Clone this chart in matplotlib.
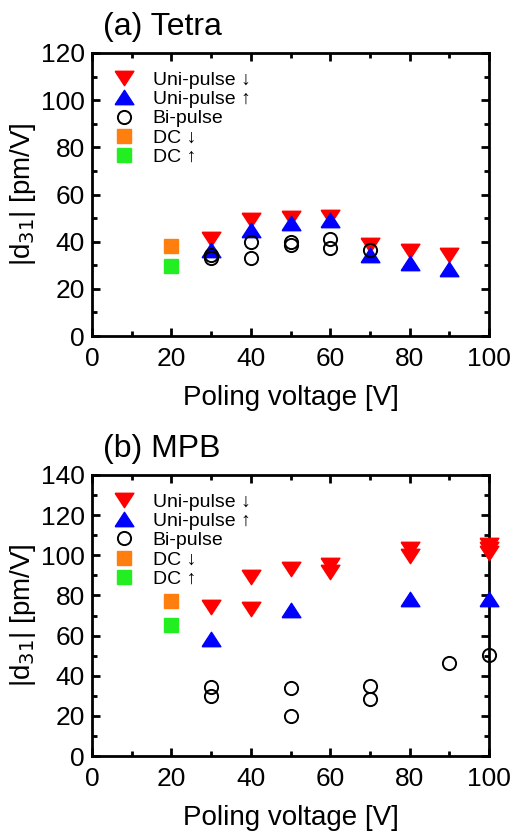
import matplotlib.pyplot as plt
from matplotlib.ticker import MultipleLocator

plt.rcParams["font.family"] = ["Liberation Sans", "DejaVu Sans"]

# (a) Tetra
a_uni_dn_x = [30, 40, 50, 60, 70, 80, 90]
a_uni_dn_y = [41, 49, 50, 50.5, 38.5, 36, 34.5]
a_uni_up_x = [30, 40, 50, 60, 70, 80, 90]
a_uni_up_y = [36.5, 45, 48, 49, 34.5, 31, 28.5]
a_bi_x = [30, 30, 40, 40, 50, 50, 60, 60, 70]
a_bi_y = [34.5, 33, 40, 33, 40, 38.5, 41, 37.5, 36.5]
a_dc_dn = ([20], [38])
a_dc_up = ([20], [29.5])

# (b) MPB
b_uni_dn_x = [30, 40, 40, 50, 60, 60, 80, 80, 100, 100, 100]
b_uni_dn_y = [74, 89, 73, 93, 95, 91.5, 103, 99.5, 105, 103, 101]
b_uni_up_x = [30, 50, 80, 100]
b_uni_up_y = [58.5, 72.5, 78, 78]
b_bi_x = [30, 30, 50, 50, 70, 70, 90, 100]
b_bi_y = [34.5, 30, 34, 20, 35, 28.5, 46.5, 50.5]
b_dc_dn = ([20], [77])
b_dc_up = ([20], [65.5])

labels = ["Uni-pulse \u2193", "Uni-pulse \u2191", "Bi-pulse", "DC \u2193", "DC \u2191"]

# slightly wide triangles, like the original
tri_dn = [(-1.3, 1), (1.3, 1), (0, -1), (-1.3, 1)]
tri_up = [(-1.3, -1), (1.3, -1), (0, 1), (-1.3, -1)]


def draw_panel(ax, uni_dn, uni_up, bi, dc_dn, dc_up, ymax, title):
    kw = dict(ls="none", clip_on=False, zorder=3)
    ax.plot(*uni_dn, marker=tri_dn, color="red", ms=13.5, label=labels[0], **kw)
    ax.plot(*uni_up, marker=tri_up, color="blue", ms=13.5, label=labels[1], **kw)
    ax.plot(*bi, "o", mfc="none", mec="black", mew=1.4, ms=9.5, label=labels[2], **kw)
    ax.plot(*dc_dn, "s", color="#ff7f0e", ms=10, label=labels[3], **kw)
    ax.plot(*dc_up, "s", color="#22ee22", ms=10, label=labels[4], **kw)

    ax.set_xlim(0, 100)
    ax.set_ylim(0, ymax)
    ax.xaxis.set_major_locator(MultipleLocator(20))
    ax.xaxis.set_minor_locator(MultipleLocator(10))
    ax.yaxis.set_major_locator(MultipleLocator(20))
    ax.yaxis.set_minor_locator(MultipleLocator(10))
    ax.tick_params(which="both", direction="in", top=True, right=True, width=2,
                   labelsize=19, pad=5)
    ax.tick_params(axis="x", which="both", pad=8)
    ax.tick_params(which="major", length=6)
    ax.tick_params(which="minor", length=3.5)
    for s in ax.spines.values():
        s.set_linewidth(2)
    ax.set_xlabel("Poling voltage [V]", fontsize=20, labelpad=10)
    ax.set_ylabel("|d$_{31}$| [pm/V]", fontsize=20, labelpad=2)
    ax.text(0.028, 1.064, title, transform=ax.transAxes, fontsize=23, va="baseline")
    ax.legend(loc="upper left", frameon=False, fontsize=14, handlelength=1.0,
              handletextpad=1.0, labelspacing=0.08, borderaxespad=0, borderpad=0,
              bbox_to_anchor=(0.055, 0.935))


fig = plt.figure(figsize=(5.13, 8.33), dpi=100)
ax1 = fig.add_axes([92 / 513, 1 - 336 / 833, 397 / 513, 283 / 833])
ax2 = fig.add_axes([92 / 513, 1 - 756 / 833, 397 / 513, 281 / 833])

draw_panel(ax1, (a_uni_dn_x, a_uni_dn_y), (a_uni_up_x, a_uni_up_y), (a_bi_x, a_bi_y),
           a_dc_dn, a_dc_up, 120, "(a) Tetra")
draw_panel(ax2, (b_uni_dn_x, b_uni_dn_y), (b_uni_up_x, b_uni_up_y), (b_bi_x, b_bi_y),
           b_dc_dn, b_dc_up, 140, "(b) MPB")

fig.savefig("out.png", dpi=100)
